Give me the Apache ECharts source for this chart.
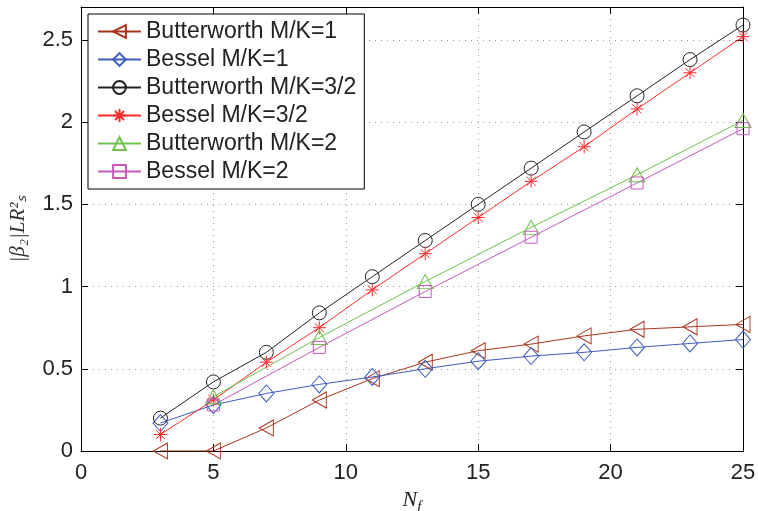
<!DOCTYPE html>
<html>
<head>
<meta charset="utf-8">
<script src="https://cdn.jsdelivr.net/npm/echarts@6/dist/echarts.min.js"></script>
<style>
  html, body { margin: 0; padding: 0; background: #fff; }
  #chart { width: 758px; height: 511px; }
</style>
</head>
<body>
<div id="chart"></div>
<script>
// Filter order N_f
const nfAll = [3, 5, 7, 9, 11, 13, 15, 17, 19, 21, 23, 25];
const nfStep4 = [5, 9, 13, 17, 21, 25];

// |beta2| L Rs^2 for each filter / ratio
const butterworthMK1  = [0.00, 0.00, 0.14, 0.31, 0.44, 0.54, 0.61, 0.65, 0.70, 0.74, 0.755, 0.77];
const besselMK1       = [0.17, 0.28, 0.35, 0.405, 0.45, 0.50, 0.546, 0.577, 0.60, 0.63, 0.654, 0.678];
const butterworthMK32 = [0.20, 0.42, 0.60, 0.84, 1.06, 1.28, 1.50, 1.72, 1.94, 2.16, 2.38, 2.59];
const besselMK32      = [0.10, 0.31, 0.54, 0.75, 0.98, 1.20, 1.42, 1.64, 1.85, 2.08, 2.30, 2.52];
const butterworthMK2  = [0.33, 0.69, 1.03, 1.36, 1.68, 2.01];
const besselMK2       = [0.28, 0.63, 0.97, 1.30, 1.63, 1.96];

const xTicks = [0, 5, 10, 15, 20, 25];
const yTicks = [0, 0.5, 1, 1.5, 2, 2.5];

const seriesNames = [
  'Butterworth M/K=1', 'Bessel M/K=1', 'Butterworth M/K=3/2',
  'Bessel M/K=3/2', 'Butterworth M/K=2', 'Bessel M/K=2'
];

const symTriLeft = 'path://M10,0 L0,5.7 L10,11.4 Z';
const symStar = 'path://M5,0 L5,10 M0,5 L10,5 M1.5,1.5 L8.5,8.5 M1.5,8.5 L8.5,1.5';

function pairs(xs, ys) { return xs.map((x, i) => [x, ys[i]]); }

function lineSeries(name, xs, ys, color, symbol, size) {
  return {
    name: name,
    type: 'line',
    data: pairs(xs, ys),
    symbol: symbol,
    symbolSize: size,
    showAllSymbol: true,
    lineStyle: { color: color, width: 1 },
    itemStyle: { color: 'rgba(255,255,255,0)', borderColor: color, borderWidth: 1 },
    emphasis: { disabled: true },
    animation: false,
    z: 3
  };
}

const chart = echarts.init(document.getElementById('chart'), null, { renderer: 'canvas' });

const tickFont = { fontFamily: 'Liberation Sans', fontSize: 22, color: '#222' };

chart.setOption({
  backgroundColor: '#fff',
  animation: false,
  grid: { left: 81, right: 15, top: 7, bottom: 60, containLabel: false, outerBoundsMode: 'none' },
  legend: {
    orient: 'vertical',
    left: 88,
    top: 14,
    padding: [6, 8, 6, 9],
    itemGap: 5,
    itemWidth: 43,
    itemHeight: 16,
    backgroundColor: '#fff',
    borderColor: '#000',
    borderWidth: 1,
    borderRadius: 0,
    textStyle: { fontFamily: 'Liberation Sans', fontSize: 23, color: '#222' },
    data: seriesNames,
    selectedMode: false
  },
  xAxis: [{
    type: 'value', min: 0, max: 25, interval: 5,
    position: 'bottom',
    name: '{n|N}{f|f}',
    nameLocation: 'middle',
    nameGap: 33,
    nameTextStyle: {
      rich: {
        n: { fontFamily: 'Liberation Serif', fontStyle: 'italic', fontSize: 22, color: '#222' },
        f: { fontFamily: 'Liberation Serif', fontStyle: 'italic', fontSize: 15, color: '#222', padding: [14, 0, 0, 0] }
      }
    },
    axisLine: { show: true, lineStyle: { color: '#000', width: 1 } },
    axisTick: { show: true, inside: true, length: 7, lineStyle: { color: '#000' } },
    axisLabel: Object.assign({ margin: 11, formatter: v => xTicks.includes(v) ? String(v) : '' }, tickFont),
    splitLine: { show: true, lineStyle: { color: '#999', type: [1, 5], width: 1 } }
  }, {
    type: 'value', min: 0, max: 25, interval: 5,
    position: 'top',
    axisLine: { show: true, onZero: false, lineStyle: { color: '#000', width: 1 } },
    axisTick: { show: true, inside: true, length: 7, lineStyle: { color: '#000' } },
    axisLabel: { show: false },
    splitLine: { show: false }
  }],
  yAxis: [{
    type: 'value', min: 0, max: 2.7, interval: 0.5,
    position: 'left',
    name: '|β₂|LR²ₛ',
    nameLocation: 'middle',
    nameGap: 52,
    nameRotate: 90,
    nameTextStyle: { fontFamily: 'Liberation Serif', fontStyle: 'italic', fontSize: 21, color: '#333' },
    axisLine: { show: true, lineStyle: { color: '#000', width: 1 } },
    axisTick: { show: true, inside: true, length: 7, lineStyle: { color: '#000' } },
    axisLabel: Object.assign({ margin: 8, showMaxLabel: false, formatter: v => yTicks.includes(v) ? String(v) : '' }, tickFont),
    splitLine: { show: true, lineStyle: { color: '#999', type: [1, 5], width: 1 } }
  }, {
    type: 'value', min: 0, max: 2.7, interval: 0.5,
    position: 'right',
    axisLine: { show: true, onZero: false, lineStyle: { color: '#000', width: 1 } },
    axisTick: { show: true, inside: true, length: 7, lineStyle: { color: '#000' } },
    axisLabel: { show: false },
    splitLine: { show: false }
  }],
  series: [
    lineSeries(seriesNames[0], nfAll, butterworthMK1, '#a8341c', symTriLeft, [14, 16]),
    lineSeries(seriesNames[1], nfAll, besselMK1, '#3d5cc0', 'diamond', [15, 17]),
    lineSeries(seriesNames[2], nfAll, butterworthMK32, '#222222', 'circle', 14),
    lineSeries(seriesNames[3], nfAll, besselMK32, '#ff2a2a', symStar, 13),
    lineSeries(seriesNames[4], nfStep4, butterworthMK2, '#6ec24a', 'triangle', [16, 14]),
    lineSeries(seriesNames[5], nfStep4, besselMK2, '#c658bd', 'rect', 12)
  ]
});
</script>
</body>
</html>
